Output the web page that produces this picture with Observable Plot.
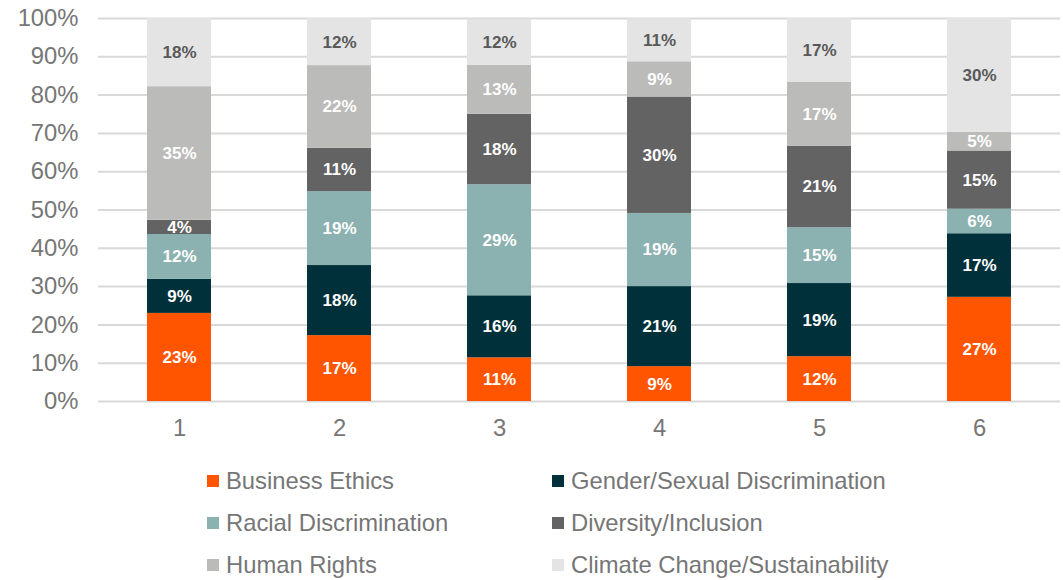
<!DOCTYPE html>
<html>
<head>
<meta charset="utf-8">
<script src="https://cdn.jsdelivr.net/npm/d3@7"></script>
<script src="https://cdn.jsdelivr.net/npm/@observablehq/plot@0.6"></script>
<style>
  html, body { margin: 0; padding: 0; background: #fff; }
  body { width: 1063px; height: 580px; overflow: hidden; font-family: "Liberation Sans", Arial, sans-serif; }
  #legend { display: grid; grid-template-columns: 345px 420px; margin-left: 207px; padding-top: 15px; row-gap: 0; }
  .item { display: flex; align-items: center; height: 42px; font-size: 23.8px; color: #767676; white-space: nowrap; }
  .sw { width: 12px; height: 12px; margin-right: 7px; flex: none; }
</style>
</head>
<body>
<div id="chart"></div>
<div id="legend"></div>
<script>
const categories = ["1", "2", "3", "4", "5", "6"];
const seriesNames = ["Business Ethics", "Gender/Sexual Discrimination", "Racial Discrimination", "Diversity/Inclusion", "Human Rights", "Climate Change/Sustainability"];
const seriesColors = ["#FF5500", "#00313A", "#8BB1B0", "#636363", "#BBBBBA", "#E4E4E4"];
const businessEthics = [23.0, 17.2, 11.4, 9.1, 11.7, 27.2];
const genderDiscrimination = [8.9, 18.3, 16.2, 20.9, 19.1, 16.6];
const racialDiscrimination = [11.7, 19.3, 29.0, 19.1, 14.6, 6.4];
const diversityInclusion = [3.7, 11.3, 18.4, 30.4, 21.2, 15.2];
const humanRights = [34.9, 21.6, 12.8, 9.2, 16.7, 4.9];
const climateChange = [17.8, 12.3, 12.0, 11.2, 16.7, 29.8];
const yTicks = [0, 10, 20, 30, 40, 50, 60, 70, 80, 90, 100];

const seriesValues = [businessEthics, genderDiscrimination, racialDiscrimination, diversityInclusion, humanRights, climateChange];
const data = [];
seriesNames.forEach((s, si) => {
  categories.forEach((c, ci) => {
    data.push({category: c, series: s, value: seriesValues[si][ci]});
  });
});

const chart = Plot.plot({
  width: 1063,
  height: 445,
  marginLeft: 98,
  marginRight: 3,
  marginTop: 18,
  marginBottom: 44,
  style: {fontFamily: "Liberation Sans, Arial, sans-serif", background: "#fff"},
  x: {domain: categories, paddingInner: 0.6, paddingOuter: 0.3, label: null},
  y: {domain: [0, 100], label: null},
  color: {domain: seriesNames, range: seriesColors},
  marks: [
    Plot.gridY(yTicks, {stroke: "#d9d9d9", strokeOpacity: 1, strokeWidth: 2}),
    Plot.axisY(yTicks, {tickSize: 0, tickPadding: 20, tickFormat: d => d + "%", fontSize: 23.8, fill: "#767676", label: null}),
    Plot.axisX({tickSize: 0, tickPadding: 18, fontSize: 23.8, fill: "#767676", label: null}),
    Plot.barY(data, Plot.stackY({x: "category", y: "value", z: "series", fill: "series", order: seriesNames})),
    Plot.text(data, Plot.stackY({
      x: "category", y: "value", z: "series", order: seriesNames,
      text: d => Math.round(d.value) + "%",
      fill: d => d.series === "Climate Change/Sustainability" ? "#595959" : "#ffffff",
      fontSize: 17, fontWeight: "bold"
    }))
  ]
});
document.getElementById("chart").appendChild(chart);

const legend = document.getElementById("legend");
seriesNames.forEach((s, i) => {
  const item = document.createElement("div");
  item.className = "item";
  const sw = document.createElement("span");
  sw.className = "sw";
  sw.style.background = seriesColors[i];
  const t = document.createElement("span");
  t.textContent = s;
  item.appendChild(sw);
  item.appendChild(t);
  legend.appendChild(item);
});
</script>
</body>
</html>
